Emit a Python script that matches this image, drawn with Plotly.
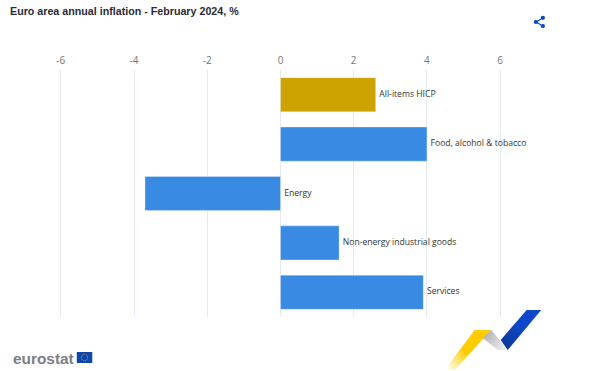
import base64
import plotly.graph_objects as go

# Data
categories = ["All-items HICP", "Food, alcohol & tobacco", "Energy", "Non-energy industrial goods", "Services"]
values = [2.6, 4.0, -3.7, 1.6, 3.9]
bar_colors = ["#cca300", "#388ae2", "#388ae2", "#388ae2", "#388ae2"]
tick_values = [-6, -4, -2, 0, 2, 4, 6]
tick_labels = ["-6", "-4", "-2", "0", "2", "4", "6"]
title_text = "Euro area annual inflation - February 2024, %"

W, H = 606, 371
L, R, T, B = 59.2, 502.3, 70, 317   # plot area in page pixels

def px_x(v):
    return (v - L) / (R - L)

def px_y(v):
    return (B - v) / (B - T)

decor = f"""<svg xmlns='http://www.w3.org/2000/svg' width='{W}' height='{H}' viewBox='0 0 {W} {H}'>
<defs>
<linearGradient id='y' x1='491' y1='330' x2='447' y2='370' gradientUnits='userSpaceOnUse'>
<stop offset='0' stop-color='#ffcc00'/><stop offset='0.55' stop-color='#ffcc00'/><stop offset='1' stop-color='#ffffff'/></linearGradient>
<linearGradient id='g' x1='486' y1='334' x2='506' y2='350' gradientUnits='userSpaceOnUse'>
<stop offset='0' stop-color='#b4b4b8'/><stop offset='1' stop-color='#f2f2f3'/></linearGradient>
<linearGradient id='b' x1='505' y1='346' x2='535' y2='314' gradientUnits='userSpaceOnUse'>
<stop offset='0' stop-color='#0a3a96'/><stop offset='0.6' stop-color='#0e47cb'/><stop offset='1' stop-color='#0e47cb'/></linearGradient>
</defs>
<polygon points='475,330 491.5,330 455,370 445,370' fill='url(#y)'/>
<polygon points='483,338 491.5,330 508,350 498,350' fill='url(#g)'/>
<polygon points='527,310 541.5,310 508,350 501,340' fill='url(#b)'/>
<rect x='77' y='352' width='15.5' height='11' fill='#0e47a8'/>
<circle cx='84.7' cy='357.5' r='3.2' fill='none' stroke='#c9b24a' stroke-width='0.8' stroke-dasharray='1 0.8'/>
<g stroke='#0e47cb' stroke-width='1.2' fill='#0e47cb'>
<line x1='536.5' y1='22' x2='543' y2='18'/><line x1='536.5' y1='22' x2='543' y2='26'/>
<circle cx='536.2' cy='22' r='1.5'/><circle cx='543.2' cy='17.8' r='1.5'/><circle cx='543.2' cy='26' r='1.5'/>
</g>
</svg>"""
decor_uri = "data:image/svg+xml;base64," + base64.b64encode(decor.encode()).decode()

fig = go.Figure()
fig.add_trace(go.Bar(
    y=categories, x=values, orientation="h",
    marker=dict(color=bar_colors, line=dict(color="rgba(255,255,255,0.3)", width=1)),
    width=0.69, hoverinfo="skip", cliponaxis=False,
))
fig.add_trace(go.Scatter(
    y=categories, x=[max(v, 0) for v in values], mode="text",
    text=["\u2009 " + c for c in categories], textposition="middle right",
    textfont=dict(family="Open Sans", size=8.6, color="#333333"),
    hoverinfo="skip", cliponaxis=False,
))
fig.update_layout(
    width=W, height=H, autosize=False, showlegend=False,
    paper_bgcolor="white", plot_bgcolor="white",
    margin=dict(l=L, r=W - R, t=T, b=H - B, pad=0),
    title=dict(text=f"<b>{title_text}</b>", x=10 / W, xanchor="left", y=1 - 11 / H, yanchor="middle",
               font=dict(family="Liberation Sans", size=10.7, color="#2b2b38")),
    xaxis=dict(side="top", range=[-6.05, 6.05], tickvals=tick_values, ticktext=tick_labels,
               ticks="", showline=False, ticklabelstandoff=3,
               gridcolor="#e6e9f2", gridwidth=1, zeroline=False,
               tickfont=dict(family="Open Sans", size=10, color="#777777")),
    yaxis=dict(type="category", categoryorder="array", categoryarray=categories,
               range=[4.5, -0.5], showticklabels=False, showgrid=False, zeroline=False, ticks=""),
    images=[dict(source=decor_uri, xref="paper", yref="paper", x=px_x(0), y=px_y(0),
                 sizex=W / (R - L), sizey=H / (B - T), sizing="stretch",
                 xanchor="left", yanchor="top", layer="below")],
    annotations=[dict(text="<b>eurostat</b>", xref="paper", yref="paper", x=px_x(11), y=px_y(358),
                      xanchor="left", yanchor="middle", showarrow=False,
                      font=dict(family="Liberation Sans", size=15.4, color="#7d7d88"))],
)
fig.write_html("out.html", config={"displayModeBar": False},
               post_script="document.body.style.margin='0';")
